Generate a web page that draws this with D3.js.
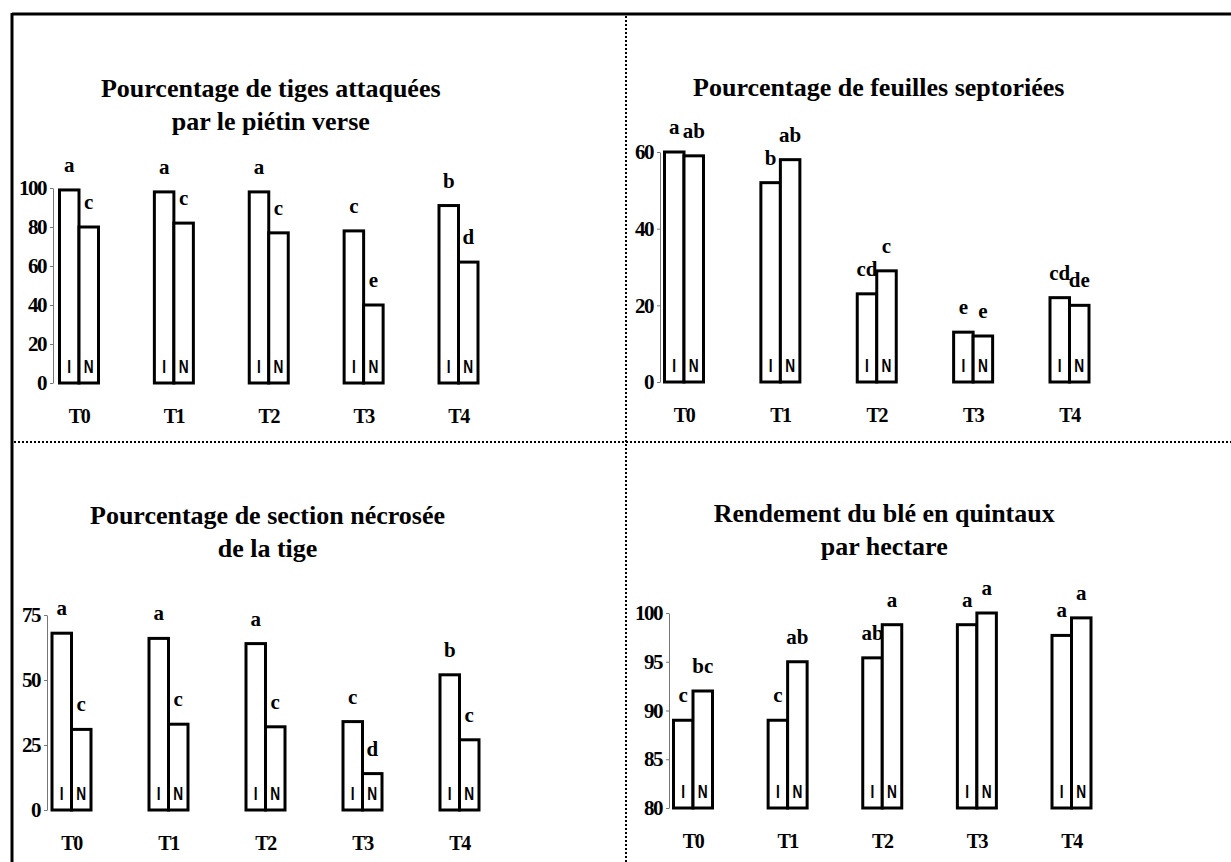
<!DOCTYPE html>
<html>
<head>
<meta charset="utf-8">
<script src="https://cdn.jsdelivr.net/npm/d3@7"></script>
<style>
  html, body { margin: 0; padding: 0; background: #fff; }
  svg { display: block; }
  .serif { font-family: "Liberation Serif", "Times New Roman", Times, "DejaVu Serif Condensed", "DejaVu Serif", serif; font-weight: bold; }
  .title { font-size: 26px; }
  .tick text { font-family: "Liberation Serif", "Times New Roman", Times, "DejaVu Serif Condensed", "DejaVu Serif", serif; font-weight: bold; font-size: 21px; letter-spacing: -1.5px; fill: #000; }
  .cat { font-size: 20px; letter-spacing: -1.5px; }
  .sig { font-size: 21px; }
  .inbar { font-family: "Liberation Sans", Arial, sans-serif; font-weight: bold; font-size: 19px; }
</style>
</head>
<body>
<svg id="chart" width="1231" height="862"></svg>
<script>
  // treatments
  const categories = ["T0", "T1", "T2", "T3", "T4"];
  const seriesNames = ["I", "N"];

  // % tiges attaquées par le piétin verse
  const tigesI = [99, 98, 98, 78, 91];
  const tigesN = [80, 82, 77, 40, 62];
  const tigesLetI = ["a", "a", "a", "c", "b"];
  const tigesLetN = ["c", "c", "c", "e", "d"];
  const tigesTicks = [0, 20, 40, 60, 80, 100];

  // % feuilles septoriées
  const septoI = [60, 52, 23, 13, 22];
  const septoN = [59, 58, 29, 12, 20];
  const septoLetI = ["a", "b", "cd", "e", "cd"];
  const septoLetN = ["ab", "ab", "c", "e", "de"];
  const septoTicks = [0, 20, 40, 60];

  // % section nécrosée de la tige
  const necroI = [68, 66, 64, 34, 52];
  const necroN = [31, 33, 32, 14, 27];
  const necroLetI = ["a", "a", "a", "c", "b"];
  const necroLetN = ["c", "c", "c", "d", "c"];
  const necroTicks = [0, 25, 50, 75];

  // rendement q/ha
  const rendI = [89, 89, 95.4, 98.8, 97.7];
  const rendN = [92, 95, 98.8, 100, 99.5];
  const rendLetI = ["c", "c", "ab", "a", "a"];
  const rendLetN = ["bc", "ab", "a", "a", "a"];
  const rendTicks = [80, 85, 90, 95, 100];

  const svg = d3.select("#chart");

  // frame and dotted separators
  svg.append("line").attr("x1", 12).attr("x2", 1231).attr("y1", 14).attr("y2", 14)
    .attr("stroke", "#000").attr("stroke-width", 3);
  svg.append("line").attr("x1", 12).attr("x2", 12).attr("y1", 13).attr("y2", 862)
    .attr("stroke", "#000").attr("stroke-width", 3);
  svg.append("line").attr("x1", 626).attr("x2", 626).attr("y1", 16).attr("y2", 862)
    .attr("stroke", "#000").attr("stroke-width", 2).attr("stroke-dasharray", "2,2");
  svg.append("line").attr("x1", 14).attr("x2", 1231).attr("y1", 442).attr("y2", 442)
    .attr("stroke", "#000").attr("stroke-width", 2).attr("stroke-dasharray", "2,2");

  const drawPanel = (cfg) => {
    const g = svg.append("g");
    const xscale = d3.scalePoint().domain(categories).range(cfg.xr).padding(0);
    const yscale = d3.scaleLinear().domain(d3.extent(cfg.ticks)).range(cfg.yr);
    const bw = 19.5;
    const cx = (xscale(categories[0]) + xscale(categories[4])) / 2 + 2;

    // title
    cfg.title.forEach((t, i) => {
      g.append("text").attr("class", "serif title")
        .attr("x", cx).attr("y", cfg.yr[0] - 286 + i * 33)
        .attr("text-anchor", "middle").text(t);
    });

    // y axis
    const yAxis = d3.axisLeft(yscale).tickValues(cfg.ticks).tickSize(3).tickSizeOuter(0).tickPadding(4);
    const ax = g.append("g").attr("transform", `translate(${cfg.axisX},0)`).call(yAxis);
    ax.attr("font-family", null).attr("font-size", null);
    ax.select(".domain").attr("stroke", "#777").attr("stroke-width", 1);
    ax.selectAll(".tick line").attr("stroke", "#777");

    const rows = categories.map((c, i) => ({ c, vals: [cfg.I[i], cfg.N[i]], lets: [cfg.letI[i], cfg.letN[i]] }));
    const grp = g.selectAll(".grp").data(rows).enter().append("g");

    seriesNames.forEach((s, k) => {
      const x0 = (d) => xscale(d.c) + (k === 0 ? -bw : 0);
      grp.append("rect")
        .attr("x", x0)
        .attr("y", (d) => yscale(d.vals[k]))
        .attr("width", bw)
        .attr("height", (d) => yscale(cfg.ticks[0]) - yscale(d.vals[k]))
        .attr("fill", "#fff").attr("stroke", "#000").attr("stroke-width", 3);
      grp.append("text").attr("class", "serif sig")
        .attr("x", (d) => x0(d) + bw / 2)
        .attr("y", (d) => yscale(d.vals[k]) - 18)
        .attr("text-anchor", "middle")
        .text((d) => d.lets[k]);
      grp.append("text").attr("class", "inbar")
        .attr("transform", (d) => `translate(${x0(d) + bw / 2},${yscale(cfg.ticks[0]) - 10}) scale(0.72,1)`)
        .attr("text-anchor", "middle")
        .text(s);
    });

    grp.append("text").attr("class", "serif cat")
      .attr("x", (d) => xscale(d.c))
      .attr("y", yscale(cfg.ticks[0]) + 40)
      .attr("text-anchor", "middle")
      .text((d) => d.c);
  };

  drawPanel({ title: ["Pourcentage de tiges attaquées", "par le piétin verse"],
    I: tigesI, N: tigesN, letI: tigesLetI, letN: tigesLetN, ticks: tigesTicks,
    xr: [79, 458.5], yr: [383, 188], axisX: 53 });
  drawPanel({ title: ["Pourcentage de feuilles septoriées"],
    I: septoI, N: septoN, letI: septoLetI, letN: septoLetN, ticks: septoTicks,
    xr: [684, 1069.5], yr: [382, 152], axisX: 660 });
  drawPanel({ title: ["Pourcentage de section nécrosée", "de la tige"],
    I: necroI, N: necroN, letI: necroLetI, letN: necroLetN, ticks: necroTicks,
    xr: [71.5, 459.5], yr: [810, 615], axisX: 47 });
  drawPanel({ title: ["Rendement du blé en quintaux", "par hectare"],
    I: rendI, N: rendN, letI: rendLetI, letN: rendLetN, ticks: rendTicks,
    xr: [693, 1071.5], yr: [808, 613], axisX: 669 });
</script>
</body>
</html>
